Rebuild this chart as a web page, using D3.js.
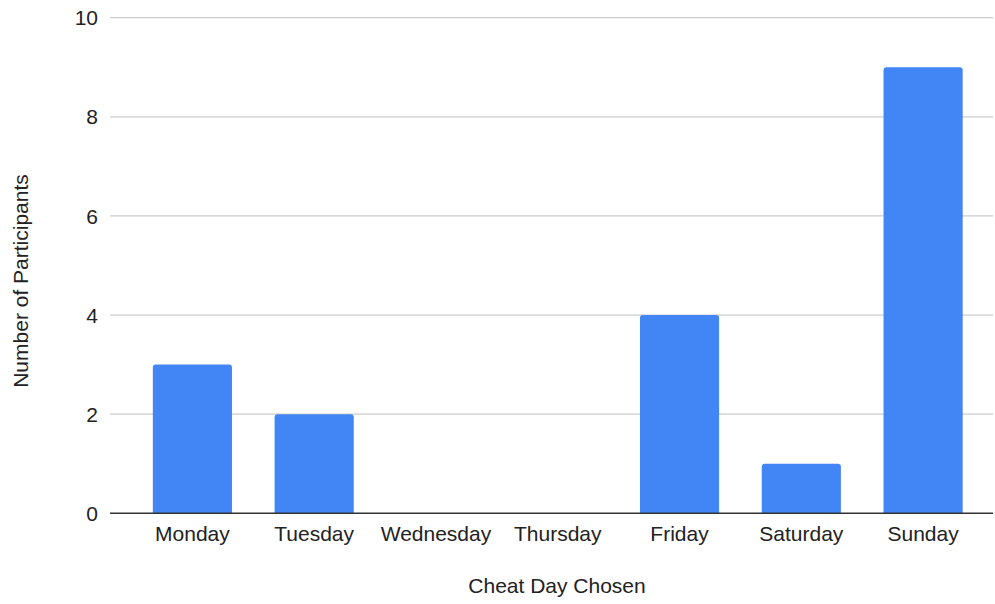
<!DOCTYPE html>
<html><head><meta charset="utf-8">
<script src="https://cdn.jsdelivr.net/npm/d3@7"></script>
<style>body{margin:0;background:#fff}svg{display:block}text{font-family:"Liberation Sans",Arial,sans-serif;fill:#222}</style>
</head><body><svg id="c" width="995" height="604"></svg>
<script>
const categories = ["Monday","Tuesday","Wednesday","Thursday","Friday","Saturday","Sunday"];
const values = [3,2,0,0,4,1,9];
const yTicks = [0,2,4,6,8,10];
const xTitle = "Cheat Day Chosen";
const yTitle = "Number of Participants";

const svg = d3.select("#c");
const gridLeft = 110, gridRight = 993;
const x = d3.scaleBand().domain(categories).range([131.5, 984]).paddingInner(0.35).paddingOuter(0.175);
const y = d3.scaleLinear().domain([0,10]).range([513.3, 17.7]);

// gridlines
svg.append("g").selectAll("line").data(yTicks.filter(d=>d>0)).join("line")
  .attr("x1", gridLeft).attr("x2", gridRight)
  .attr("y1", d=>y(d)).attr("y2", d=>y(d))
  .attr("stroke", "#cccccc").attr("stroke-width", 1.2);

// y tick labels
svg.append("g").selectAll("text").data(yTicks).join("text")
  .attr("x", 98).attr("y", d=>y(d)).attr("dy", "0.36em")
  .attr("text-anchor", "end").attr("font-size", 21).text(d=>d);

// bars with rounded top corners
const r = 3;
svg.append("g").selectAll("path").data(categories.map((c,i)=>({c, v: values[i]})).filter(d=>d.v>0)).join("path")
  .attr("fill", "#4285f4")
  .attr("d", d => {
    const x0 = x(d.c), x1 = x0 + x.bandwidth(), yt = y(d.v), yb = y(0);
    const p = d3.path();
    p.moveTo(x0, yb);
    p.lineTo(x0, yt + r);
    p.arcTo(x0, yt, x0 + r, yt, r);
    p.lineTo(x1 - r, yt);
    p.arcTo(x1, yt, x1, yt + r, r);
    p.lineTo(x1, yb);
    p.closePath();
    return p.toString();
  });

// baseline
svg.append("line").attr("x1", gridLeft).attr("x2", gridRight)
  .attr("y1", y(0)).attr("y2", y(0)).attr("stroke", "#333").attr("stroke-width", 1.5);

// x tick labels
svg.append("g").selectAll("text").data(categories).join("text")
  .attr("x", d => x(d) + x.bandwidth()/2).attr("y", 540.7)
  .attr("text-anchor", "middle").attr("font-size", 21).text(d=>d);

// axis titles
svg.append("text").attr("x", 557).attr("y", 593).attr("text-anchor", "middle")
  .attr("font-size", 21).text(xTitle);
svg.append("text").attr("transform", "translate(28,281) rotate(-90)")
  .attr("text-anchor", "middle").attr("font-size", 21).text(yTitle);
</script></body></html>
